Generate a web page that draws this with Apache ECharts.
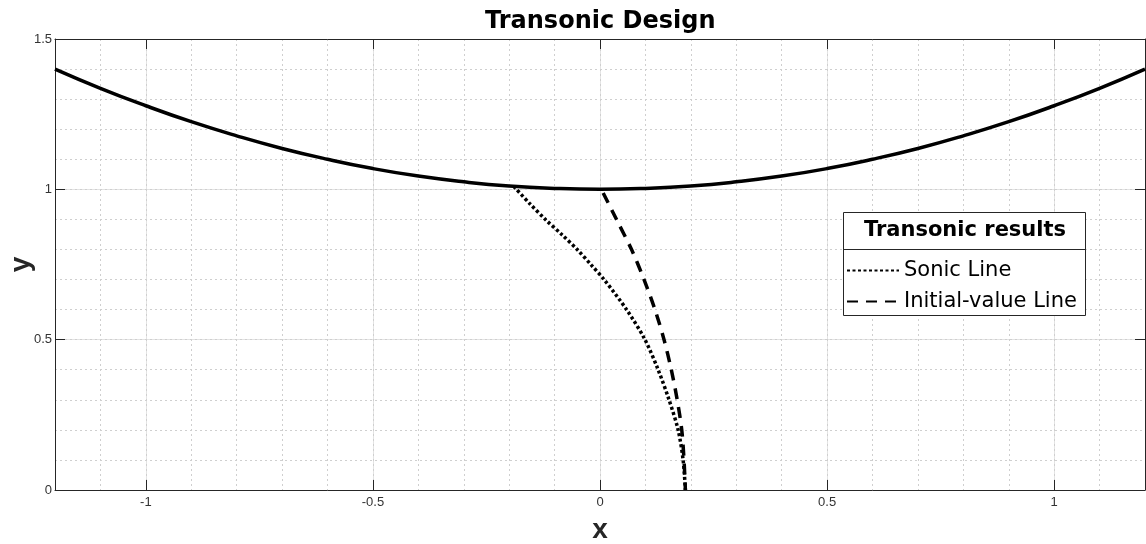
<!DOCTYPE html>
<html>
<head>
<meta charset="utf-8">
<script src="https://cdn.jsdelivr.net/npm/echarts@6/dist/echarts.min.js"></script>
<style>
  html, body { margin: 0; padding: 0; background: #fff; }
  #chart { width: 1146px; height: 544px; }
</style>
</head>
<body>
<div id="chart"></div>
<script>
// wall contour (upper boundary)
const wallX = [-1.2, -1.1, -1.0, -0.9, -0.8, -0.7, -0.6, -0.5, -0.4, -0.3, -0.2, -0.1, 0,
  0.1, 0.2, 0.3, 0.4, 0.5, 0.6, 0.7, 0.8, 0.9, 1.0, 1.1, 1.2]
const wallY = [1.400, 1.336, 1.278, 1.225, 1.178, 1.136, 1.100, 1.069, 1.044, 1.025, 1.011, 1.003, 1.000,
  1.003, 1.011, 1.025, 1.044, 1.069, 1.100, 1.136, 1.178, 1.225, 1.278, 1.336, 1.400]

// sonic line
const sonicX = [-0.190, -0.155, -0.119, -0.083, -0.049, -0.019, 0.009, 0.059, 0.099, 0.128, 0.152, 0.172, 0.183, 0.188]
const sonicY = [1.010, 0.953, 0.898, 0.848, 0.798, 0.748, 0.700, 0.599, 0.500, 0.400, 0.300, 0.200, 0.100, 0.0]

// initial-value line
const initX = [0.007, 0.037, 0.070, 0.097, 0.121, 0.141, 0.157, 0.170, 0.180, 0.185, 0.188]
const initY = [0.988, 0.898, 0.798, 0.700, 0.600, 0.500, 0.400, 0.300, 0.200, 0.100, 0.0]

const xMajor = [-1, -0.5, 0, 0.5, 1]
const yMajor = [0, 0.5, 1, 1.5]

const pairs = (xs, ys) => xs.map((x, i) => [x, ys[i]])

const chart = echarts.init(document.getElementById('chart'))

const axisColor = '#262626'
const majorGrid = { show: true, lineStyle: { color: '#e3e3e3', width: 1 } }
const minorGrid = { show: true, lineStyle: { color: '#cfcfcf', width: 1, type: [2, 3] } }
const labelStyle = { color: '#333', fontFamily: 'Liberation Sans', fontSize: 13 }
const nameStyle = { color: '#262626', fontFamily: 'Liberation Sans', fontSize: 28, fontWeight: 'bold' }

const option = {
  animation: false,
  backgroundColor: '#fff',
  title: {
    text: 'Transonic Design',
    left: 480,
    top: 5,
    textStyle: { color: '#000', fontFamily: 'DejaVu Sans', fontSize: 24, fontWeight: 'bold' }
  },
  grid: { left: 55, right: 1, top: 39, bottom: 54, containLabel: false, outerBoundsMode: 'none' },
  xAxis: [
    {
      type: 'value', position: 'bottom', min: -1.2, max: 1.2,
      name: 'x', nameLocation: 'middle', nameGap: 26, nameTextStyle: nameStyle,
      axisLine: { show: true, onZero: false, lineStyle: { color: axisColor } },
      axisTick: { show: true, inside: true, length: 10, customValues: xMajor, lineStyle: { color: axisColor } },
      axisLabel: { show: true, margin: 6, customValues: xMajor, ...labelStyle },
      splitLine: majorGrid
    },
    {
      type: 'value', position: 'top', min: -1.2, max: 1.2,
      axisLine: { show: true, onZero: false, lineStyle: { color: axisColor } },
      axisTick: { show: true, inside: true, length: 10, customValues: xMajor, lineStyle: { color: axisColor } },
      axisLabel: { show: false },
      splitLine: { show: false }
    },
    {
      type: 'value', position: 'bottom', min: -1.2, max: 1.2, interval: 0.1,
      axisLine: { show: false }, axisTick: { show: false }, axisLabel: { show: false },
      splitLine: minorGrid
    }
  ],
  yAxis: [
    {
      type: 'value', position: 'left', min: 0, max: 1.5,
      name: 'y', nameLocation: 'middle', nameGap: 20, nameMoveOverlap: false, nameTextStyle: nameStyle,
      axisLine: { show: true, onZero: false, lineStyle: { color: axisColor } },
      axisTick: { show: true, inside: true, length: 10, customValues: yMajor, lineStyle: { color: axisColor } },
      axisLabel: { show: true, margin: 3, customValues: yMajor, ...labelStyle },
      splitLine: majorGrid
    },
    {
      type: 'value', position: 'right', min: 0, max: 1.5,
      axisLine: { show: true, onZero: false, lineStyle: { color: axisColor } },
      axisTick: { show: true, inside: true, length: 10, customValues: yMajor, lineStyle: { color: axisColor } },
      axisLabel: { show: false },
      splitLine: { show: false }
    },
    {
      type: 'value', position: 'left', min: 0, max: 1.5, interval: 0.1,
      axisLine: { show: false }, axisTick: { show: false }, axisLabel: { show: false },
      splitLine: minorGrid
    }
  ],
  legend: {
    data: ['Sonic Line', 'Initial-value Line'],
    orient: 'vertical',
    left: 846,
    top: 260,
    itemWidth: 52,
    itemHeight: 20,
    itemGap: 10,
    itemStyle: { opacity: 0 },
    textStyle: { color: '#000', fontFamily: 'DejaVu Sans', fontSize: 21, lineHeight: 20 },
    padding: 0,
    z: 5
  },
  graphic: [
    {
      type: 'rect', z: 4,
      shape: { x: 843.5, y: 212.5, width: 242, height: 103 },
      style: { fill: '#fff', stroke: '#262626', lineWidth: 1 }
    },
    {
      type: 'line', z: 4,
      shape: { x1: 843.5, y1: 249.5, x2: 1085.5, y2: 249.5 },
      style: { stroke: '#262626', lineWidth: 1 }
    },
    {
      type: 'text', z: 5, x: 965, y: 231,
      style: {
        text: 'Transonic results', fill: '#000', align: 'center', verticalAlign: 'middle',
        font: 'bold 21px "DejaVu Sans"'
      }
    }
  ],
  series: [
    {
      name: 'Wall', type: 'line', data: pairs(wallX, wallY), smooth: true,
      showSymbol: false, symbol: 'none', z: 3,
      lineStyle: { color: '#000', width: 3.5 }
    },
    {
      name: 'Sonic Line', type: 'line', data: pairs(sonicX, sonicY), smooth: 0.3,
      showSymbol: false, symbol: 'none', z: 3, itemStyle: { color: '#000' },
      lineStyle: { color: '#000', width: 3.5, type: [3, 2.5] }
    },
    {
      name: 'Initial-value Line', type: 'line', data: pairs(initX, initY), smooth: 0.3,
      showSymbol: false, symbol: 'none', z: 3, itemStyle: { color: '#000' },
      lineStyle: { color: '#000', width: 3.5, type: [11, 8] }
    }
  ]
}

chart.setOption(option)
</script>
</body>
</html>
